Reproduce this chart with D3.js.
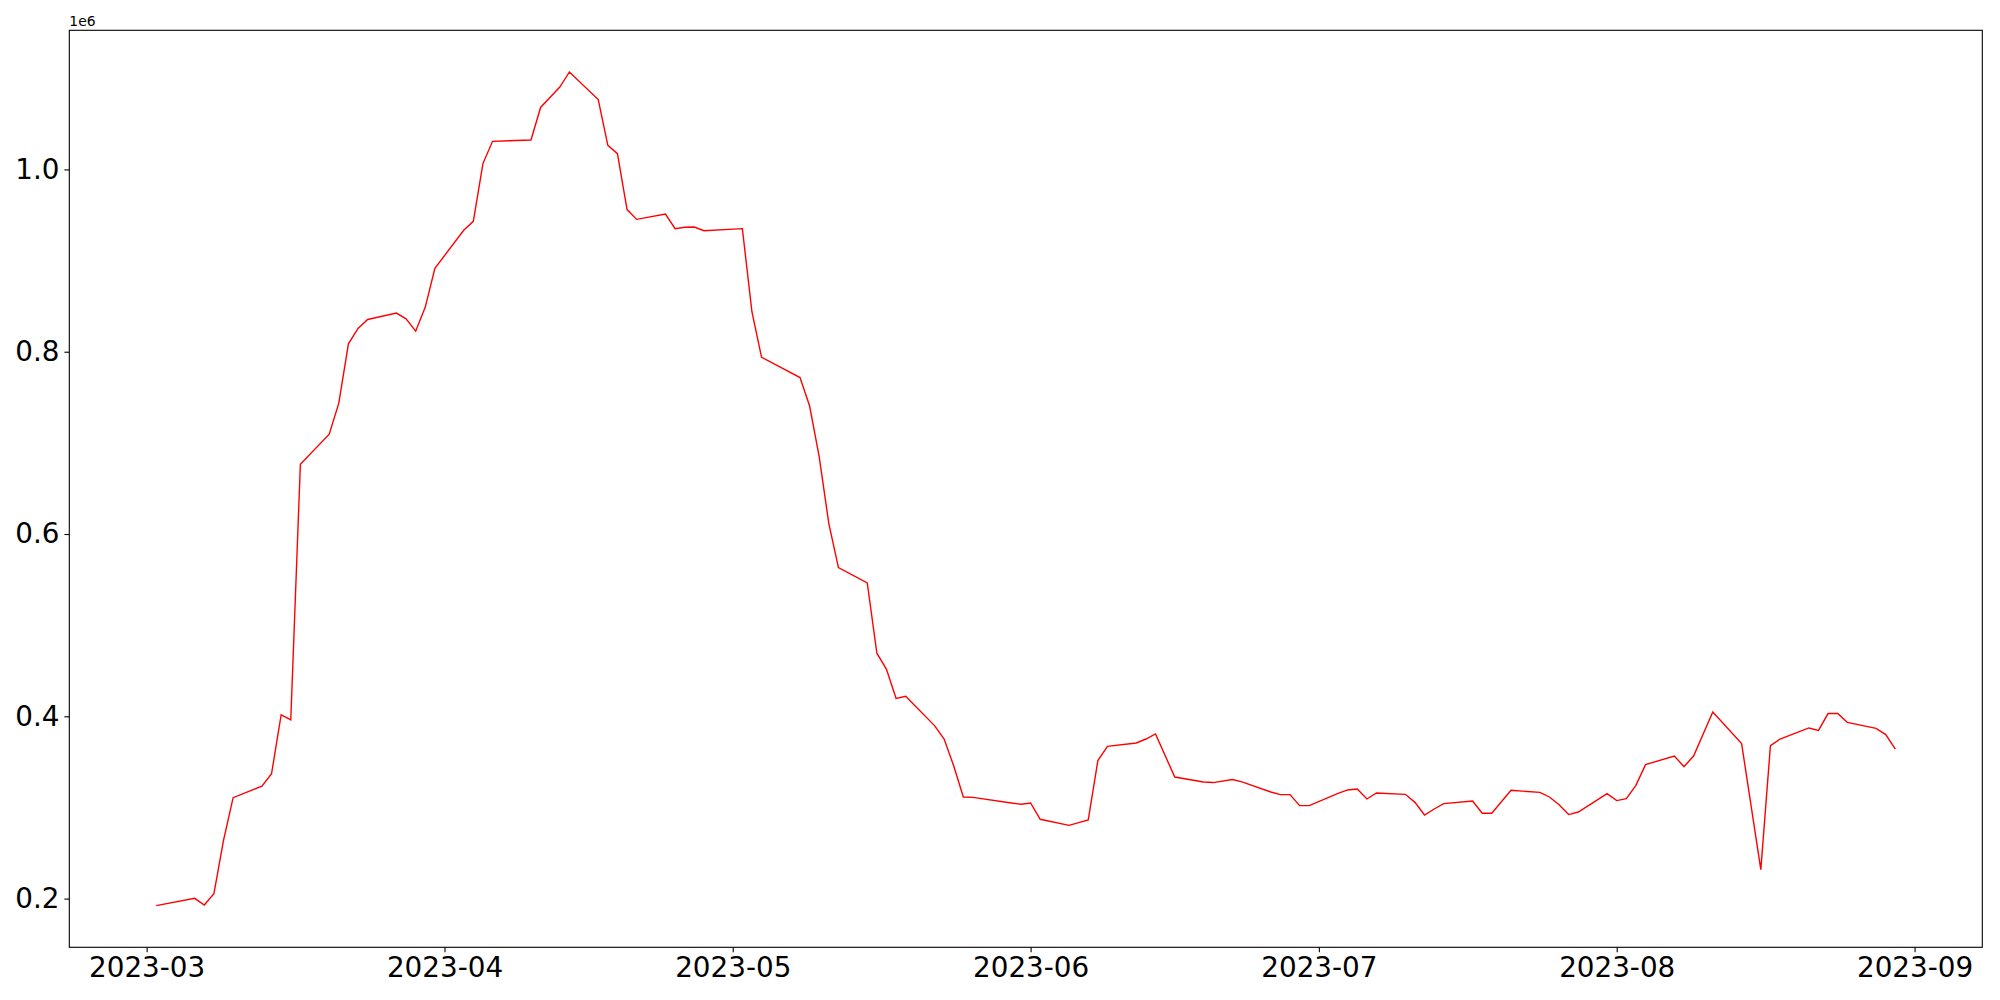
<!DOCTYPE html>
<html>
<head>
<meta charset="UTF-8">
<script src="https://d3js.org/d3.v7.min.js"></script>
<style>
  body { margin: 0; background: white; }
  svg { display: block; font-family: "DejaVu Sans", sans-serif; }
</style>
</head>
<body>
<svg id="chart" width="2000" height="1000"></svg>
<script>
const dates = [
  '2023-03-02', '2023-03-06', '2023-03-07', '2023-03-08', '2023-03-09', '2023-03-10',
  '2023-03-13', '2023-03-14', '2023-03-15', '2023-03-16', '2023-03-17',
  '2023-03-20', '2023-03-21', '2023-03-22', '2023-03-23', '2023-03-24',
  '2023-03-27', '2023-03-28', '2023-03-29', '2023-03-30', '2023-03-31',
  '2023-04-03', '2023-04-04', '2023-04-05', '2023-04-06',
  '2023-04-10', '2023-04-11', '2023-04-13', '2023-04-14',
  '2023-04-17', '2023-04-18', '2023-04-19', '2023-04-20', '2023-04-21',
  '2023-04-24', '2023-04-25', '2023-04-26', '2023-04-27', '2023-04-28',
  '2023-05-02', '2023-05-03', '2023-05-04',
  '2023-05-08', '2023-05-09', '2023-05-10', '2023-05-11', '2023-05-12',
  '2023-05-15', '2023-05-16', '2023-05-17', '2023-05-18', '2023-05-19',
  '2023-05-22', '2023-05-23', '2023-05-24', '2023-05-25', '2023-05-26',
  '2023-05-30', '2023-05-31', '2023-06-01', '2023-06-02',
  '2023-06-05', '2023-06-06', '2023-06-07', '2023-06-08', '2023-06-09',
  '2023-06-12', '2023-06-13', '2023-06-14', '2023-06-16',
  '2023-06-19', '2023-06-20', '2023-06-22', '2023-06-23',
  '2023-06-26', '2023-06-27', '2023-06-28', '2023-06-29', '2023-06-30',
  '2023-07-03', '2023-07-04', '2023-07-05', '2023-07-06', '2023-07-07',
  '2023-07-10', '2023-07-11', '2023-07-12', '2023-07-13', '2023-07-14',
  '2023-07-17', '2023-07-18', '2023-07-19', '2023-07-21',
  '2023-07-24', '2023-07-25', '2023-07-26', '2023-07-27', '2023-07-28',
  '2023-07-31', '2023-08-01', '2023-08-02', '2023-08-03', '2023-08-04',
  '2023-08-07', '2023-08-08', '2023-08-09', '2023-08-11',
  '2023-08-14', '2023-08-16', '2023-08-17', '2023-08-18',
  '2023-08-21', '2023-08-22', '2023-08-23', '2023-08-24', '2023-08-25',
  '2023-08-28', '2023-08-29', '2023-08-30'
];

const values = [
  192300, 200300, 193000, 205500, 264000, 310700,
  323400, 337000, 401700, 396200, 676400,
  709500, 743600, 808700, 825500, 835400,
  842400, 836000, 822500, 849000, 891500,
  933200, 943000, 1006400, 1030800,
  1032300, 1068000, 1090400, 1106900,
  1076600, 1026400, 1017300, 955900, 945200,
  951000, 935000, 936500, 936800, 932800,
  935000, 843600, 793900,
  771600, 740400, 684500, 611400, 563100,
  546300, 469200, 451600, 419700, 422000,
  389800, 375100, 345500, 311500, 311100,
  304900, 303500, 304900, 287000,
  280400, 283400, 286300, 351400, 367100,
  370700, 375100, 380600, 333400,
  328000, 327300, 330600, 328000,
  317000, 314100, 314100, 302000, 302000,
  315500, 319200, 320300, 309300, 315900,
  314400, 305600, 291700, 298300, 304200,
  307100, 293600, 293600, 318800,
  316600, 311500, 302900, 292200, 295000,
  315200, 307500, 309700, 324300, 347000,
  356400, 344800, 356400, 404700,
  370000, 231800, 367900, 375100,
  387200, 384600, 403000, 403000, 393400,
  386800, 379900, 364100
];

const yTicks = [200000, 400000, 600000, 800000, 1000000];

const width = 2000, height = 1000;
const margin = { top: 30.3, right: 17.7, bottom: 52.7, left: 69.3 };

const parse = d3.utcParse('%Y-%m-%d');
const data = dates.map((d, i) => ({ date: parse(d), value: values[i] }));

// matplotlib style 5% margins
const xExt = d3.extent(data, d => d.date.getTime());
const xPad = (xExt[1] - xExt[0]) * 0.05;
const yExt = d3.extent(data, d => d.value);
const yPad = (yExt[1] - yExt[0]) * 0.05;

const x = d3.scaleUtc()
  .domain([new Date(xExt[0] - xPad), new Date(xExt[1] + xPad)])
  .range([margin.left, width - margin.right]);

const y = d3.scaleLinear()
  .domain([yExt[0] - yPad, yExt[1] + yPad])
  .range([height - margin.bottom, margin.top]);

const svg = d3.select('#chart');

svg.append('path')
  .datum(data)
  .attr('fill', 'none')
  .attr('stroke', 'red')
  .attr('stroke-width', 1.4)
  .attr('stroke-linejoin', 'miter')
  .attr('d', d3.line().x(d => x(d.date)).y(d => y(d.value)));

const xAxis = svg.append('g')
  .attr('transform', `translate(0,${height - margin.bottom})`)
  .call(d3.axisBottom(x)
    .ticks(d3.utcMonth.every(1))
    .tickFormat(d3.utcFormat('%Y-%m'))
    .tickSize(4.9)
    .tickPadding(4.9));

const yAxis = svg.append('g')
  .attr('transform', `translate(${margin.left},0)`)
  .call(d3.axisLeft(y)
    .tickValues(yTicks)
    .tickFormat(d => (d / 1e6).toFixed(1))
    .tickSize(4.9)
    .tickPadding(4.9));

[xAxis, yAxis].forEach(g => {
  g.select('.domain').remove();
  g.selectAll('line').attr('stroke', 'black').attr('stroke-width', 1.1);
  g.selectAll('text')
    .attr('fill', 'black')
    .style('font-family', '"DejaVu Sans", sans-serif')
    .style('font-size', '27.8px');
});

// frame
svg.append('rect')
  .attr('x', margin.left)
  .attr('y', margin.top)
  .attr('width', width - margin.left - margin.right)
  .attr('height', height - margin.top - margin.bottom)
  .attr('fill', 'none')
  .attr('stroke', 'black')
  .attr('stroke-width', 1.1);

// offset text (scale factor)
svg.append('text')
  .attr('x', margin.left)
  .attr('y', 26)
  .attr('text-anchor', 'start')
  .style('font-family', '"DejaVu Sans", sans-serif')
  .style('font-size', '13.9px')
  .attr('fill', 'black')
  .text('1e6');
</script>
</body>
</html>
